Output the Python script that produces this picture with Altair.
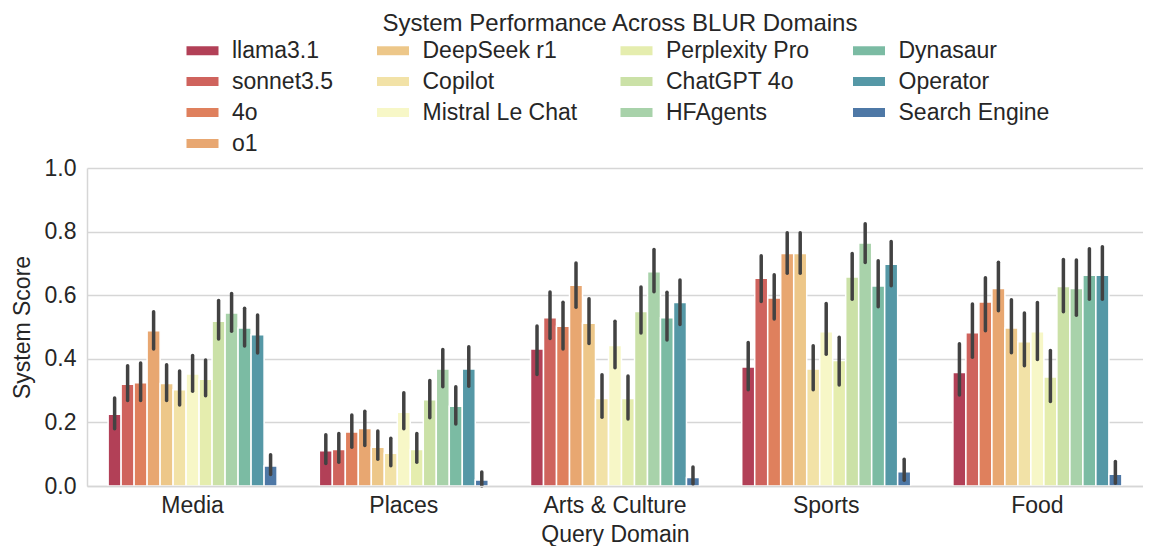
import altair as alt
import pandas as pd

domains = ["Media", "Places", "Arts & Culture", "Sports", "Food"]

systems = ["llama3.1", "sonnet3.5", "4o", "o1", "DeepSeek r1", "Copilot",
           "Mistral Le Chat", "Perplexity Pro", "ChatGPT 4o", "HFAgents",
           "Dynasaur", "Operator", "Search Engine"]

colors = ["#B24057", "#CF635D", "#DF805D", "#E8A771", "#EDC789", "#F2E2A7",
          "#F7F7C7", "#E5EDAE", "#CBE1A7", "#A8D2AA", "#7BBBA3", "#5598A6",
          "#4E78A6"]

# mean scores per system, in domain order
scores = {
    "llama3.1":        [0.226, 0.111, 0.431, 0.374, 0.357],
    "sonnet3.5":       [0.320, 0.115, 0.529, 0.653, 0.482],
    "4o":              [0.325, 0.170, 0.502, 0.591, 0.579],
    "o1":              [0.488, 0.181, 0.631, 0.731, 0.621],
    "DeepSeek r1":     [0.322, 0.122, 0.512, 0.731, 0.497],
    "Copilot":         [0.303, 0.103, 0.275, 0.368, 0.454],
    "Mistral Le Chat": [0.352, 0.232, 0.442, 0.485, 0.485],
    "Perplexity Pro":  [0.336, 0.115, 0.275, 0.395, 0.343],
    "ChatGPT 4o":      [0.518, 0.271, 0.549, 0.657, 0.627],
    "HFAgents":        [0.544, 0.368, 0.674, 0.764, 0.621],
    "Dynasaur":        [0.497, 0.251, 0.529, 0.629, 0.663],
    "Operator":        [0.476, 0.368, 0.577, 0.697, 0.663],
    "Search Engine":   [0.063, 0.019, 0.027, 0.045, 0.037],
}

# lower ends of the error bars
lows = {
    "llama3.1":        [0.180, 0.071, 0.351, 0.303, 0.286],
    "sonnet3.5":       [0.269, 0.075, 0.464, 0.580, 0.405],
    "4o":              [0.269, 0.122, 0.431, 0.525, 0.488],
    "o1":              [0.431, 0.127, 0.562, 0.669, 0.551],
    "DeepSeek r1":     [0.269, 0.084, 0.448, 0.669, 0.419],
    "Copilot":         [0.255, 0.064, 0.216, 0.303, 0.378],
    "Mistral Le Chat": [0.298, 0.180, 0.372, 0.414, 0.398],
    "Perplexity Pro":  [0.284, 0.075, 0.211, 0.318, 0.266],
    "ChatGPT 4o":      [0.462, 0.215, 0.481, 0.587, 0.548],
    "HFAgents":        [0.487, 0.312, 0.611, 0.703, 0.537],
    "Dynasaur":        [0.440, 0.195, 0.459, 0.564, 0.587],
    "Operator":        [0.418, 0.314, 0.508, 0.630, 0.587],
    "Search Engine":   [0.036, 0.000, 0.006, 0.018, 0.009],
}

# upper ends of the error bars
highs = {
    "llama3.1":        [0.277, 0.161, 0.503, 0.451, 0.447],
    "sonnet3.5":       [0.378, 0.165, 0.610, 0.724, 0.572],
    "4o":              [0.387, 0.223, 0.578, 0.664, 0.655],
    "o1":              [0.548, 0.235, 0.701, 0.796, 0.704],
    "DeepSeek r1":     [0.381, 0.173, 0.589, 0.796, 0.586],
    "Copilot":         [0.362, 0.150, 0.350, 0.441, 0.544],
    "Mistral Le Chat": [0.410, 0.293, 0.518, 0.574, 0.577],
    "Perplexity Pro":  [0.396, 0.165, 0.346, 0.468, 0.426],
    "ChatGPT 4o":      [0.583, 0.332, 0.626, 0.731, 0.712],
    "HFAgents":        [0.605, 0.429, 0.744, 0.825, 0.711],
    "Dynasaur":        [0.559, 0.312, 0.609, 0.708, 0.746],
    "Operator":        [0.538, 0.438, 0.648, 0.769, 0.752],
    "Search Engine":   [0.098, 0.044, 0.060, 0.084, 0.077],
}

y_ticks = [0.0, 0.2, 0.4, 0.6, 0.8, 1.0]

rows = []
for s in systems:
    for i, d in enumerate(domains):
        rows.append({"domain": d, "system": s, "score": scores[s][i],
                     "lo": lows[s][i], "hi": highs[s][i]})
df = pd.DataFrame(rows)

# legend is filled column by column (4, 3, 3, 3) -> reorder for row-major grid
legend_columns = [systems[0:4], systems[4:7], systems[7:10], systems[10:13]]
legend_order = []
for r in range(4):
    for col in legend_columns:
        if r < len(col):
            legend_order.append(col[r])
legend_colors = [colors[systems.index(s)] for s in legend_order]

FONT = "Liberation Sans"
TXT = "#262626"
GRID = "#d6d6d6"

x_enc = alt.X("domain:N", sort=domains,
              scale=alt.Scale(paddingInner=0.2, paddingOuter=0.1),
              axis=alt.Axis(title="Query Domain", labelAngle=0, ticks=False,
                            grid=False, domainColor=GRID, domainWidth=1.5,
                            labelFontSize=23, titleFontSize=23,
                            labelPadding=8, titlePadding=6, zindex=1))
xoff = alt.XOffset("system:N", sort=systems,
                   scale=alt.Scale(paddingInner=0, paddingOuter=0))

y_axis = alt.Axis(title="System Score", values=y_ticks, format=".1f",
                  ticks=False, grid=True, gridColor=GRID, gridWidth=1.5,
                  domainColor=GRID, domainWidth=1.5, labelFontSize=23,
                  titleFontSize=23, labelPadding=11, titlePadding=10)

bars = alt.Chart(df).mark_bar(stroke="white", strokeWidth=1.5).encode(
    x=x_enc,
    xOffset=xoff,
    y=alt.Y("score:Q", scale=alt.Scale(domain=[0, 1]), axis=y_axis),
    color=alt.Color(
        "system:N",
        scale=alt.Scale(domain=legend_order, range=legend_colors),
        legend=alt.Legend(
            title="System Performance Across BLUR Domains",
            orient="none", legendX=104, legendY=-156,
            direction="horizontal", columns=4, columnPadding=42.5,
            rowPadding=7, padding=0,
            symbolType="M-2,-0.56L2,-0.56L2,0.56L-2,0.56Z",
            symbolSize=256, symbolStrokeWidth=0, symbolOpacity=1,
            labelOffset=18, labelFontSize=23, labelColor=TXT, labelLimit=400,
            titleFontSize=24, titleFontWeight="normal", titleColor=TXT,
            titleAnchor="middle", titlePadding=3, titleLimit=800,
        ),
    ),
)

errs = alt.Chart(df).mark_rule(color="#424242", strokeWidth=3.5,
                               strokeCap="round").encode(
    x=x_enc,
    xOffset=xoff,
    y=alt.Y("lo:Q", scale=alt.Scale(domain=[0, 1]), axis=y_axis),
    y2="hi:Q",
)

chart = alt.layer(bars, errs).properties(
    width=1056, height=318,
    padding={"left": 3, "top": 4, "right": 0, "bottom": 0},
    background="white",
).configure(
    font=FONT,
).configure_axis(
    labelColor=TXT, titleColor=TXT, titleFontWeight="normal",
    labelFont=FONT, titleFont=FONT,
).configure_legend(
    labelFont=FONT, titleFont=FONT,
).configure_view(stroke=None)

chart.save("out.html", embed_options={"renderer": "svg", "actions": False})
